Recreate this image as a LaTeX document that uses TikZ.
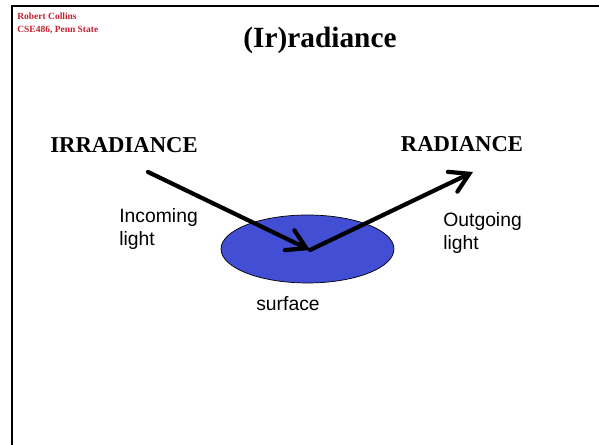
\documentclass[tikz,border=0pt]{standalone}
\usepackage{fontspec}
\setmainfont{Liberation Serif}
\newfontfamily\arialfont{Liberation Sans}
\usetikzlibrary{positioning,arrows.meta,shapes.geometric}
\definecolor{surfblue}{RGB}{66,78,212}
\definecolor{authred}{RGB}{192,32,48}

\begin{document}
\begin{tikzpicture}[x=0.02cm, y=-0.02cm,
  heading/.style={font=\fontsize{12.9}{15}\selectfont\bfseries},
  caption/.style={font=\arialfont\fontsize{11}{13.5}\selectfont, align=left, inner sep=0pt},
  ray/.style={line width=2.4pt, line cap=round, -{Straight Barb[length=10.5pt, width=12.5pt, line cap=round]}}]
\useasboundingbox (0,0) rectangle (599,445);

% frame of the slide
\draw[line width=0.8pt] (12,445) -- (12,6) -- (599,6);

% nodes (manual positions for clearer layout)
\node[anchor=north west, inner sep=0pt, align=left, text=authred,
      font=\fontsize{5.4}{7.4}\selectfont\bfseries] (author) at (17,12.5)
      {Robert Collins\\CSE486, Penn State};
\node[font=\fontsize{16.7}{20}\selectfont\bfseries] (title) at (320,40) {(Ir)radiance};
\node[heading] (irr) at (124,145) {IRRADIANCE};
\node[heading] (rad) at (462,144) {RADIANCE};
\node[draw, line width=0.4pt, fill=surfblue, ellipse, minimum width=3.46cm, minimum height=1.36cm,
      inner sep=0pt] (surf) at (307.5,249) {};
\node[caption, anchor=west] (inc) at (119,229) {Incoming\\light};
\node[caption, anchor=west] (outg) at (443,233) {Outgoing\\light};
\node[caption] (surflab) at (288,304) {surface};

% ray end points
\coordinate (start) at (148,172);
\coordinate (hit) at (310,250);
\coordinate (stop) at (473,172);

% edges
\draw[ray] (start) -- (hit);
\draw[ray] (hit) -- (stop);

\end{tikzpicture}
\end{document}
